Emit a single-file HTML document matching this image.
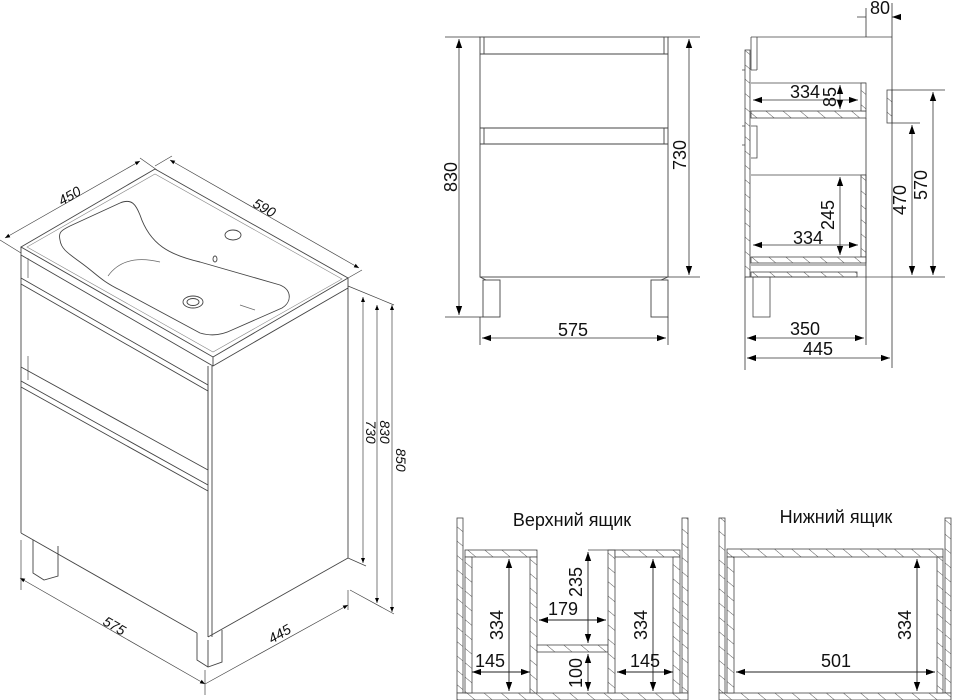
<!DOCTYPE html>
<html><head><meta charset="utf-8"><style>
html,body{margin:0;padding:0;background:#fff}
svg{display:block}
text{font-family:"Liberation Sans",sans-serif;fill:#111}
</style></head><body>
<svg width="954" height="700" viewBox="0 0 954 700" xmlns="http://www.w3.org/2000/svg">
<defs>
<pattern id="h" patternUnits="userSpaceOnUse" width="11" height="11" patternTransform="rotate(-50)">
<rect width="11" height="11" fill="#fff"/><line x1="0" y1="0" x2="0" y2="11" stroke="#444" stroke-width="0.9"/>
</pattern>
<marker id="a" viewBox="0 0 10 10" refX="10" refY="5" markerWidth="9" markerHeight="9" orient="auto-start-reverse" markerUnits="userSpaceOnUse">
<path d="M0,1.5 L10,5 L0,8.5 z" fill="#000"/></marker>
<marker id="s" viewBox="0 0 10 10" refX="10" refY="5" markerWidth="5" markerHeight="5" orient="auto-start-reverse" markerUnits="userSpaceOnUse">
<path d="M0,1 L10,5 L0,9 z" fill="#000"/></marker>
</defs>

<!-- ISOMETRIC VIEW -->
<g fill="none" stroke="#444" stroke-width="0.9">
<path d="M21,247 L155,169 L348,278 L213,357 Z"/>
<path d="M27,247 L155,174 L342,279 L213,352 Z" stroke="#888" stroke-width="0.6"/>
<path d="M21,247 L21,255 L213,366 L348,288 L348,278"/>
<path d="M213,357 L213,366"/>
<path d="M60,240 C58,232 62,230 70,226 L120,203 C132,198 136,205 140,215 C150,245 170,255 200,262 L280,285 C292,290 292,302 282,308 L232,330 C220,336 210,336 200,333 L120,290 C100,280 98,275 80,262 C66,252 61,248 60,240 Z"/>
<path d="M108,276 C118,262 135,256 160,262" stroke="#666" stroke-width="0.7"/>
<path d="M240,305 L255,310" stroke="#666" stroke-width="0.7"/>
<ellipse cx="193" cy="302" rx="10" ry="6"/><ellipse cx="193" cy="302" rx="6" ry="3.5"/>
<ellipse cx="233" cy="235" rx="8" ry="5"/>
<ellipse cx="215" cy="259" rx="2" ry="3"/>
<path d="M21,255 L21,533"/>
<path d="M28,258 L28,278 M28,356 L28,380" stroke="#777"/>
<path d="M208,366 L208,637 M212,366 L212,637"/>
<path d="M348,288 L348,558"/>
<path d="M208,637 L348,558"/>
<path d="M21,533 L197,633"/>
<path d="M21,278 L208,385 M21,284 L208,391 M21,367 L208,470 M208,385 L208,470"/>
<path d="M21,381 L208,485 M21,387 L208,491"/>
<path d="M33,540 L33,573 L44,580 L58,576 L58,546"/>
<path d="M197,633 L197,660 L208,667 L222,662 L222,630"/>
<path d="M208,640 L208,667"/>
</g>
<g stroke="#444" stroke-width="0.7" fill="none">
<path d="M5,238 L140,161" marker-start="url(#s)" marker-end="url(#s)"/>
<path d="M0,240 L21,253 M140,158 L157,170"/>
<path d="M170,160 L359,268" marker-start="url(#s)" marker-end="url(#s)"/>
<path d="M155,166 L172,156 M348,278 L362,270"/>
<path d="M363,297 L363,563" marker-start="url(#s)" marker-end="url(#s)"/>
<path d="M377,305 L377,603" marker-start="url(#s)" marker-end="url(#s)"/>
<path d="M392,305 L392,612" marker-start="url(#s)" marker-end="url(#s)"/>
<path d="M348,286 L394,305 M348,558 L366,566 M350,590 L394,614"/>
<path d="M20,578 L205,684" marker-start="url(#s)" marker-end="url(#s)"/>
<path d="M205,684 L348,605" marker-end="url(#s)"/>
<path d="M21,540 L21,590 M205,670 L205,695 M348,590 L348,610"/>
</g>
<g font-size="14" font-style="italic">
<text transform="translate(72,200) rotate(-30)" text-anchor="middle">450</text>
<text transform="translate(262,212) rotate(30)" text-anchor="middle">590</text>
<text transform="translate(366,432) rotate(90)" text-anchor="middle">730</text>
<text transform="translate(380,432) rotate(90)" text-anchor="middle">830</text>
<text transform="translate(396,460) rotate(90)" text-anchor="middle">850</text>
<text transform="translate(112,630) rotate(30)" text-anchor="middle">575</text>
<text transform="translate(282,638) rotate(-30)" text-anchor="middle">445</text>
</g>

<!-- FRONT VIEW -->
<g fill="none" stroke="#444" stroke-width="0.9">
<rect x="480" y="37" width="188" height="240"/>
<path d="M484,37 L484,54 M664,37 L664,54 M480,54 L668,54"/>
<path d="M480,128 L668,128 M484,128 L484,144 M664,128 L664,144 M480,144 L668,144"/>
<rect x="483" y="280" width="17" height="37"/><rect x="651" y="280" width="17" height="37"/>
<path d="M480,277 L486,280 M661,280 L668,277"/>
</g>
<g stroke="#333" stroke-width="0.8" fill="none">
<path d="M445,37 L480,37 M445,317 L483,317 M668,37 L700,37 M668,277 L700,277 M480,317 L480,345 M668,317 L668,345"/>
<path d="M459,39 L459,315" marker-start="url(#a)" marker-end="url(#a)"/>
<path d="M689,39 L689,275" marker-start="url(#a)" marker-end="url(#a)"/>
<path d="M482,338 L666,338" marker-start="url(#a)" marker-end="url(#a)"/>
</g>
<g font-size="18">
<text transform="translate(457,177) rotate(-90)" text-anchor="middle">830</text>
<text transform="translate(686,155) rotate(-90)" text-anchor="middle">730</text>
<text x="573" y="336" text-anchor="middle">575</text>
</g>

<!-- SIDE VIEW -->
<g stroke="#444" stroke-width="0.8">
<rect x="745" y="50" width="5" height="227" fill="url(#h)"/>
<path d="M751,37 L892,37 M751,37 L751,70 M757,37 L757,70 M751,70 L757,70" fill="none"/>
<path d="M751,126 L757,126 L757,158 L751,158 M742,70 L745,70 M742,126 L745,126 M742,145 L745,145" fill="none"/>
<path d="M751,83 L866,83" fill="none"/>
<rect x="751" y="111" width="115" height="7" fill="url(#h)"/>
<rect x="861" y="83" width="5" height="28" fill="url(#h)"/>
<path d="M751,175 L866,175" fill="none"/>
<rect x="861" y="175" width="5" height="82" fill="url(#h)"/>
<rect x="751" y="257" width="115" height="6" fill="url(#h)"/>
<path d="M751,265 L866,265" fill="none"/>
<rect x="751" y="272" width="106" height="5" fill="url(#h)"/>
<rect x="887" y="90" width="5" height="33" fill="url(#h)"/>
<rect x="753" y="277" width="17" height="40" fill="none"/>
<path d="M745,277 L892,277" fill="none"/>
</g>
<g stroke="#333" stroke-width="0.8" fill="none">
<path d="M892,3 L892,368 M866,8 L866,37 M866,118 L866,345 M745,277 L745,370"/>
<path d="M892,90 L945,90 M892,123 L920,123 M892,277 L945,277"/>
<path d="M857,17 L866,17 M901,17 L892,17" marker-end="url(#a)"/>
<path d="M753,100 L858,100" marker-start="url(#a)" marker-end="url(#a)"/>
<path d="M840,85 L840,109" marker-start="url(#a)" marker-end="url(#a)"/>
<path d="M840,177 L840,255" marker-start="url(#a)" marker-end="url(#a)"/>
<path d="M753,245 L858,245" marker-start="url(#a)" marker-end="url(#a)"/>
<path d="M912,125 L912,275" marker-start="url(#a)" marker-end="url(#a)"/>
<path d="M933,92 L933,275" marker-start="url(#a)" marker-end="url(#a)"/>
<path d="M747,338 L864,338" marker-start="url(#a)" marker-end="url(#a)"/>
<path d="M747,358 L890,358" marker-start="url(#a)" marker-end="url(#a)"/>
</g>
<g font-size="18">
<text x="880" y="14" text-anchor="middle">80</text>
<text x="805" y="98" text-anchor="middle">334</text>
<text transform="translate(836,97) rotate(-90)" text-anchor="middle">85</text>
<text transform="translate(834,215) rotate(-90)" text-anchor="middle">245</text>
<text x="808" y="244" text-anchor="middle">334</text>
<text transform="translate(906,200) rotate(-90)" text-anchor="middle">470</text>
<text transform="translate(927,185) rotate(-90)" text-anchor="middle">570</text>
<text x="805" y="335" text-anchor="middle">350</text>
<text x="818" y="355" text-anchor="middle">445</text>
</g>

<!-- UPPER DRAWER -->
<g stroke="#444" stroke-width="0.8">
<rect x="457" y="518" width="6" height="175" fill="url(#h)"/>
<rect x="682" y="518" width="6" height="175" fill="url(#h)"/>
<rect x="457" y="693" width="231" height="7" fill="url(#h)"/>
<rect x="465" y="550" width="72" height="7" fill="url(#h)"/>
<rect x="465" y="557" width="7" height="136" fill="url(#h)"/>
<rect x="530" y="557" width="7" height="136" fill="url(#h)"/>
<rect x="537" y="645" width="71" height="7" fill="url(#h)"/>
<rect x="608" y="550" width="7" height="143" fill="url(#h)"/>
<rect x="615" y="550" width="65" height="7" fill="url(#h)"/>
<rect x="673" y="557" width="7" height="136" fill="url(#h)"/>
<path d="M588,550 L615,550" fill="none"/>
</g>
<g stroke="#222" stroke-width="0.9" fill="none">
<path d="M509,559 L509,691" marker-start="url(#a)" marker-end="url(#a)"/>
<path d="M472,672 L530,672" marker-start="url(#a)" marker-end="url(#a)"/>
<path d="M588,552 L588,643" marker-start="url(#a)" marker-end="url(#a)"/>
<path d="M539,620 L606,620" marker-start="url(#a)" marker-end="url(#a)"/>
<path d="M588,654 L588,691" marker-start="url(#a)" marker-end="url(#a)"/>
<path d="M653,559 L653,691" marker-start="url(#a)" marker-end="url(#a)"/>
<path d="M617,672 L673,672" marker-start="url(#a)" marker-end="url(#a)"/>
</g>
<g font-size="18">
<text x="572" y="526" text-anchor="middle">Верхний ящик</text>
<text transform="translate(503,625) rotate(-90)" text-anchor="middle">334</text>
<text x="490" y="667" text-anchor="middle">145</text>
<text transform="translate(582,582) rotate(-90)" text-anchor="middle">235</text>
<text x="563" y="615" text-anchor="middle">179</text>
<text transform="translate(582,673) rotate(-90)" text-anchor="middle">100</text>
<text transform="translate(647,625) rotate(-90)" text-anchor="middle">334</text>
<text x="645" y="667" text-anchor="middle">145</text>
</g>

<!-- LOWER DRAWER -->
<g stroke="#444" stroke-width="0.8">
<rect x="719" y="518" width="6" height="175" fill="url(#h)"/>
<rect x="945" y="518" width="6" height="175" fill="url(#h)"/>
<rect x="719" y="693" width="232" height="7" fill="url(#h)"/>
<rect x="727" y="549" width="216" height="8" fill="url(#h)"/>
<rect x="727" y="557" width="7" height="136" fill="url(#h)"/>
<rect x="937" y="557" width="6" height="136" fill="url(#h)"/>
</g>
<g stroke="#222" stroke-width="0.9" fill="none">
<path d="M736,672 L935,672" marker-start="url(#a)" marker-end="url(#a)"/>
<path d="M917,559 L917,691" marker-start="url(#a)" marker-end="url(#a)"/>
</g>
<g font-size="18">
<text x="836" y="523" text-anchor="middle">Нижний ящик</text>
<text x="836" y="667" text-anchor="middle">501</text>
<text transform="translate(911,625) rotate(-90)" text-anchor="middle">334</text>
</g>
</svg>
</body></html>
